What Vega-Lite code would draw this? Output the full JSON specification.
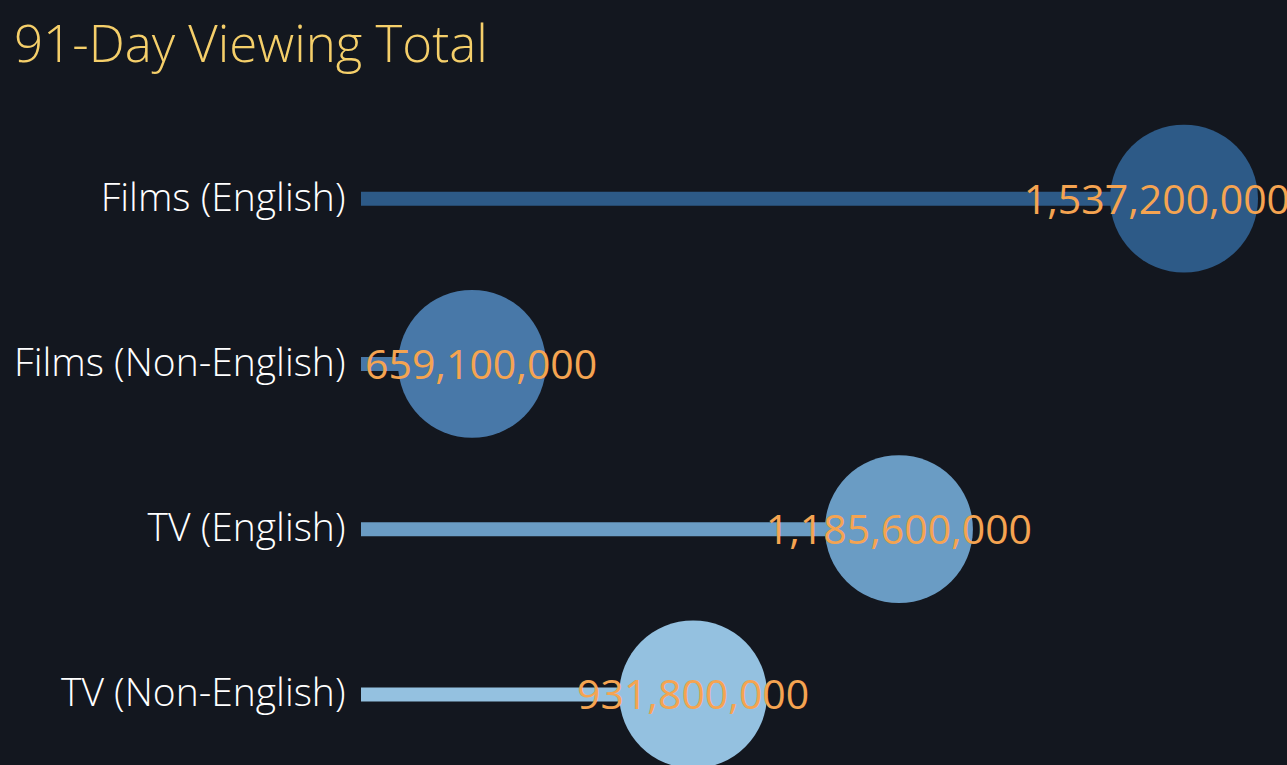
{
  "$schema": "https://vega.github.io/schema/vega-lite/v6.json",
  "width": 926,
  "height": 661,
  "autosize": {"type": "none"},
  "padding": {"left": 361, "top": 116, "right": 0, "bottom": 0},
  "background": "#13171f",
  "title": {
    "text": "91-Day Viewing Total",
    "anchor": "start",
    "frame": "group",
    "dx": -347,
    "offset": 3,
    "baseline": "alphabetic",
    "fontSize": 51,
    "font": "Open Sans",
    "fontWeight": 300,
    "color": "#f5cf6a"
  },
  "data": {
    "values": [
      {"category": "Films (English)", "views": 1537200000},
      {"category": "Films (Non-English)", "views": 659100000},
      {"category": "TV (English)", "views": 1185600000},
      {"category": "TV (Non-English)", "views": 931800000}
    ]
  },
  "encoding": {
    "y": {
      "field": "category",
      "type": "nominal",
      "sort": null,
      "title": null,
      "axis": {
        "ticks": false,
        "domain": false,
        "grid": false,
        "labelFont": "Open Sans",
        "labelFontSize": 39,
        "labelFontWeight": 300,
        "labelColor": "#ffffff",
        "labelPadding": 16,
        "labelLimit": 400
      }
    }
  },
  "layer": [
    {
      "mark": {"type": "bar", "height": 14, "clip": true},
      "encoding": {
        "x": {
          "field": "views",
          "type": "quantitative",
          "scale": {"domain": [522200000, 1664200000], "zero": false, "nice": false},
          "axis": null
        },
        "x2": {"datum": 522200000},
        "color": {
          "field": "category",
          "type": "nominal",
          "legend": null,
          "scale": {
            "domain": ["Films (English)", "Films (Non-English)", "TV (English)", "TV (Non-English)"],
            "range": ["#2d5a87", "#4878a8", "#6a9cc4", "#94c1e0"]
          }
        }
      }
    },
    {
      "mark": {"type": "circle", "size": 21900, "opacity": 1, "clip": true},
      "encoding": {
        "x": {"field": "views", "type": "quantitative"},
        "color": {"field": "category", "type": "nominal", "legend": null}
      }
    },
    {
      "transform": [{"filter": "datum.category == 'TV (English)' || datum.category == 'TV (Non-English)'"}],
      "mark": {"type": "text", "font": "Open Sans", "fontSize": 41, "color": "#f5a451", "align": "center", "baseline": "middle", "dy": 3},
      "encoding": {
        "x": {"field": "views", "type": "quantitative"},
        "text": {"field": "views", "type": "quantitative", "format": ","}
      }
    },
    {
      "transform": [{"filter": "datum.category == 'Films (English)'"}],
      "mark": {"type": "text", "font": "Open Sans", "fontSize": 41, "color": "#f5a451", "align": "right", "baseline": "middle", "dy": 3, "dx": 106},
      "encoding": {
        "x": {"field": "views", "type": "quantitative"},
        "text": {"field": "views", "type": "quantitative", "format": ","}
      }
    },
    {
      "transform": [{"filter": "datum.category == 'Films (Non-English)'"}],
      "mark": {"type": "text", "font": "Open Sans", "fontSize": 41, "color": "#f5a451", "align": "left", "baseline": "middle", "dy": 3, "dx": -107},
      "encoding": {
        "x": {"field": "views", "type": "quantitative"},
        "text": {"field": "views", "type": "quantitative", "format": ","}
      }
    }
  ],
  "config": {"view": {"stroke": null}}
}
